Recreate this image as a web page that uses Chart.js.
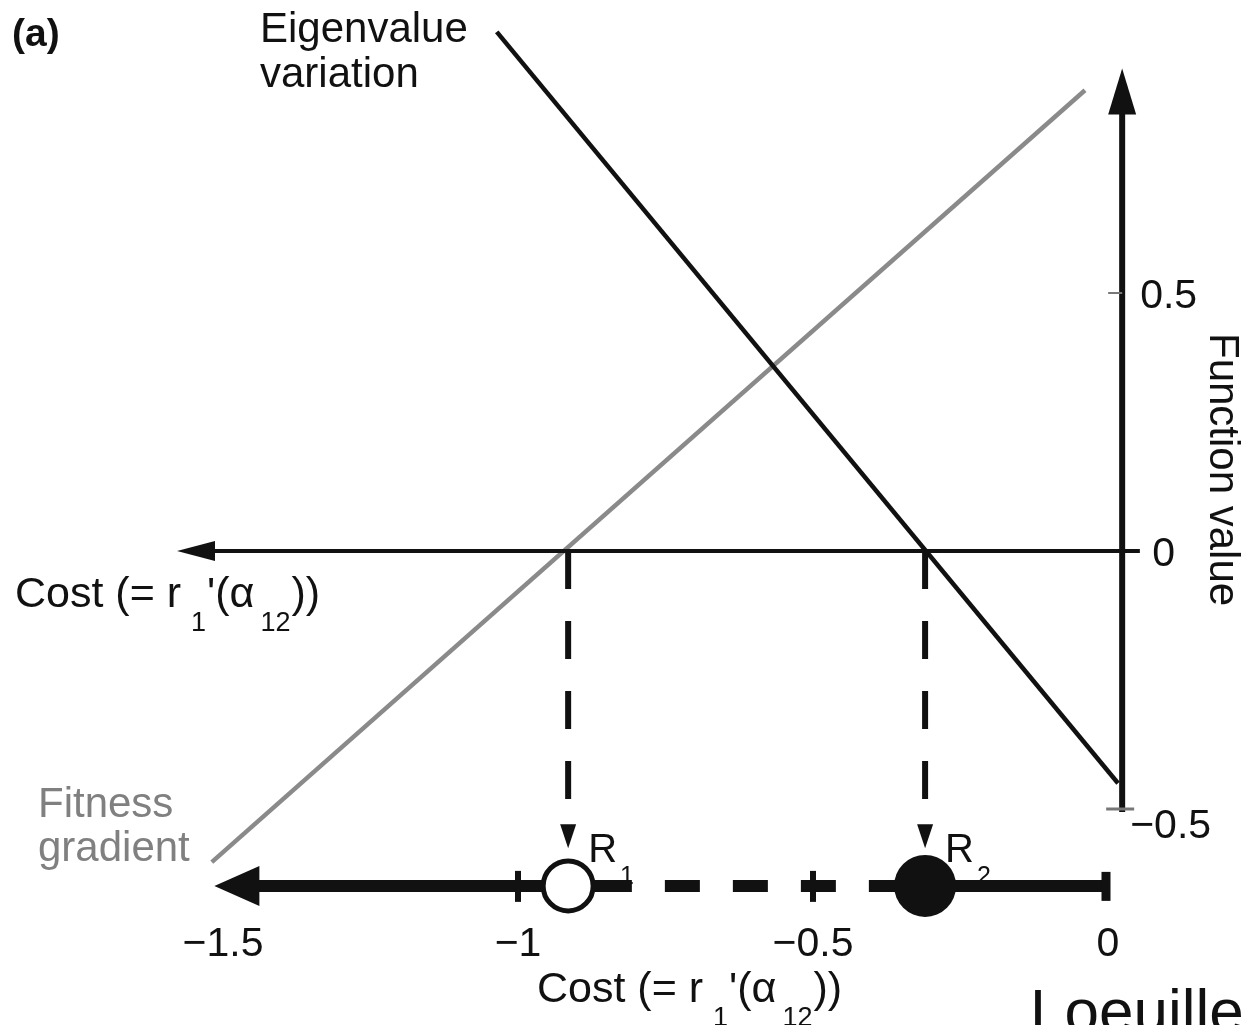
<!DOCTYPE html>
<html>
<head>
<meta charset="utf-8">
<script src="https://cdn.jsdelivr.net/npm/chart.js@4.4.1/dist/chart.umd.min.js"></script>
<style>
  html, body { margin: 0; padding: 0; background: #fff; }
  canvas { display: block; }
</style>
</head>
<body>
<canvas id="chart" width="1247" height="1025"></canvas>
<script>
// tick values and labels
var costTicks = [-1.5, -1, -0.5, 0];
var costTickLabels = ['\u22121.5', '\u22121', '\u22120.5', '0'];
var valueTicks = [0.5, 0, -0.5];
var valueTickLabels = ['0.5', '0', '\u22120.5'];

// the two straight functions (end points)
var eigenCost = [-1.036, 0.017];
var eigenValue = [1.006, -0.45];
var fitnessCost = [-1.519, -0.039];
var fitnessValue = [-0.603, 0.893];

// singular strategies: R1 repeller (open), R2 attractor (filled)
var singularCost = [-0.915, -0.31];
var singularNames = ['1', '2'];

// level of the lower cost line, in function value units
var costLineLevel = -0.649;

var valueAxisAt = 0.024;
var INK = '#111';
var GREY = '#8a8a8a';
var FONT = '"Liberation Sans", Arial, sans-serif';

function pts(xs, ys) {
  return xs.map(function (x, i) { return { x: x, y: ys[i] }; });
}

function seg(data, width, dash, offset, order, color) {
  return {
    data: data,
    showLine: true,
    borderColor: color || INK,
    borderWidth: width,
    borderDash: dash || [],
    borderDashOffset: offset || 0,
    borderCapStyle: 'butt',
    pointRadius: 0,
    order: order
  };
}

var datasets = [
  {
    data: [{ x: singularCost[0], y: costLineLevel }],
    pointRadius: 25, pointBorderWidth: 5,
    pointBackgroundColor: '#fff', pointBorderColor: INK, order: 0
  },
  {
    data: [{ x: singularCost[1], y: costLineLevel }],
    pointRadius: 31, pointBorderWidth: 0,
    pointBackgroundColor: INK, pointBorderColor: INK, order: 0
  },
  seg(pts(eigenCost, eigenValue), 4.5, null, 0, 3),
  seg(pts(fitnessCost, fitnessValue), 4.5, null, 0, 4, GREY),
  seg([{ x: -1.5, y: 0 }, { x: 0.054, y: 0 }], 4, null, 0, 2),
  seg([{ x: valueAxisAt, y: -0.506 }, { x: valueAxisAt, y: 0.85 }], 6, null, 0, 2),
  seg([{ x: singularCost[0], y: 0 }, { x: singularCost[0], y: -0.485 }], 6, [38, 32], 0, 2),
  seg([{ x: singularCost[1], y: 0 }, { x: singularCost[1], y: -0.485 }], 6, [38, 32], 0, 2),
  seg([{ x: -1.44, y: costLineLevel }, { x: -0.807, y: costLineLevel }], 12, null, 0, 1),
  seg([{ x: -0.807, y: costLineLevel }, { x: singularCost[1], y: costLineLevel }], 12, [35, 33], 35, 1),
  seg([{ x: singularCost[1], y: costLineLevel }, { x: 0, y: costLineLevel }], 12, null, 0, 1)
];

function tri(ctx, a, b, c) {
  ctx.beginPath();
  ctx.moveTo(a[0], a[1]);
  ctx.lineTo(b[0], b[1]);
  ctx.lineTo(c[0], c[1]);
  ctx.closePath();
  ctx.fill();
}

// text with subscripts: parts = [[text, isSub, gapBefore], ...]
function rich(ctx, x, y, parts, size) {
  parts.forEach(function (p) {
    x += p[2] || 0;
    if (p[1]) {
      ctx.font = Math.round(size * 0.62) + 'px ' + FONT;
      ctx.fillText(p[0], x, y + size * 0.55);
    } else {
      ctx.font = size + 'px ' + FONT;
      ctx.fillText(p[0], x, y);
    }
    x += ctx.measureText(p[0]).width;
  });
}

var decor = {
  id: 'decor',
  afterDatasetsDraw: function (chart) {
    var ctx = chart.ctx;
    var xs = chart.scales.x, ys = chart.scales.y;
    var ax = xs.getPixelForValue(valueAxisAt);
    var y0 = ys.getPixelForValue(0);
    var yl = ys.getPixelForValue(costLineLevel);
    ctx.save();
    ctx.fillStyle = INK;
    ctx.strokeStyle = INK;

    // arrow heads
    var xl = xs.getPixelForValue(-1.5);
    tri(ctx, [xl - 46, y0], [xl - 8, y0 - 10], [xl - 8, y0 + 10]);
    ctx.fillRect(xl - 10, y0 - 2, 12, 4);
    var yt = ys.getPixelForValue(0.85);
    tri(ctx, [ax, yt - 44], [ax - 14, yt + 2], [ax + 14, yt + 2]);
    var xb = xs.getPixelForValue(-1.44);
    tri(ctx, [xb - 44, yl], [xb + 1, yl - 20], [xb + 1, yl + 20]);
    singularCost.forEach(function (c) {
      var px = xs.getPixelForValue(c);
      var tip = ys.getPixelForValue(-0.576);
      tri(ctx, [px, tip], [px - 8, tip - 24], [px + 8, tip - 24]);
    });

    // ticks on the cost line
    ctx.lineWidth = 6;
    [-1, -0.5].forEach(function (c) {
      var px = xs.getPixelForValue(c);
      ctx.beginPath(); ctx.moveTo(px, yl - 15); ctx.lineTo(px, yl + 16); ctx.stroke();
    });
    ctx.lineWidth = 9;
    var p0 = xs.getPixelForValue(0);
    ctx.beginPath(); ctx.moveTo(p0 - 2, yl - 14); ctx.lineTo(p0 - 2, yl + 15); ctx.stroke();

    // ticks on the value axis
    ctx.strokeStyle = '#777';
    ctx.lineWidth = 2;
    var y5 = ys.getPixelForValue(0.5), ym5 = ys.getPixelForValue(-0.5);
    ctx.beginPath(); ctx.moveTo(ax - 14, y5); ctx.lineTo(ax, y5); ctx.stroke();
    ctx.lineWidth = 3;
    ctx.beginPath(); ctx.moveTo(ax - 16, ym5); ctx.lineTo(ax + 12, ym5); ctx.stroke();

    // tick labels
    ctx.fillStyle = INK;
    ctx.font = '41px ' + FONT;
    ctx.textBaseline = 'alphabetic';
    ctx.textAlign = 'center';
    costTicks.forEach(function (c, i) {
      ctx.fillText(costTickLabels[i], xs.getPixelForValue(c), 956);
    });
    ctx.textAlign = 'left';
    valueTicks.forEach(function (v, i) {
      var lx = v === 0 ? ax + 30 : (v < 0 ? ax + 8 : ax + 18);
      var py = ys.getPixelForValue(v) + 15 + (v < 0 ? 14 : 0);
      ctx.fillText(valueTickLabels[i], lx, py);
    });

    // R1 / R2 labels
    singularCost.forEach(function (c, i) {
      rich(ctx, xs.getPixelForValue(c) + 20, 862, [['R', false], [singularNames[i], true, 3]], 40);
    });

    // axis titles
    var costTitle = [['Cost (= r', false], ['1', true, 10], ["'(\u03b1", false, 1],
                     ['12', true, 6], ['))', false, 1]];
    rich(ctx, 15, 607, costTitle, 43);
    rich(ctx, 537, 1002, costTitle, 43);

    ctx.save();
    ctx.translate(1210, 333);
    ctx.rotate(Math.PI / 2);
    ctx.font = '42px ' + FONT;
    ctx.fillText('Function value', 0, 0);
    ctx.restore();

    // curve names
    ctx.font = '42px ' + FONT;
    ctx.fillText('Eigenvalue', 260, 42);
    ctx.fillText('variation', 260, 87);
    ctx.fillStyle = '#808080';
    ctx.fillText('Fitness', 38, 817);
    ctx.fillText('gradient', 38, 861);

    ctx.fillStyle = INK;
    ctx.font = 'bold 39px ' + FONT;
    ctx.fillText('(a)', 12, 46);

    ctx.font = '62px ' + FONT;
    ctx.fillText('Loeuille', 1030, 1032);
    ctx.restore();
  }
};

new Chart(document.getElementById('chart'), {
  type: 'scatter',
  data: { datasets: datasets },
  options: {
    responsive: false,
    animation: false,
    events: [],
    layout: { padding: 0, autoPadding: false },
    plugins: { legend: { display: false }, tooltip: { enabled: false } },
    scales: {
      x: { type: 'linear', display: false, min: -1108 / 590, max: 139 / 590 },
      y: { type: 'linear', display: false, min: (551 - 1025) / 516, max: 551 / 516 }
    }
  },
  plugins: [decor]
});
</script>
</body>
</html>
